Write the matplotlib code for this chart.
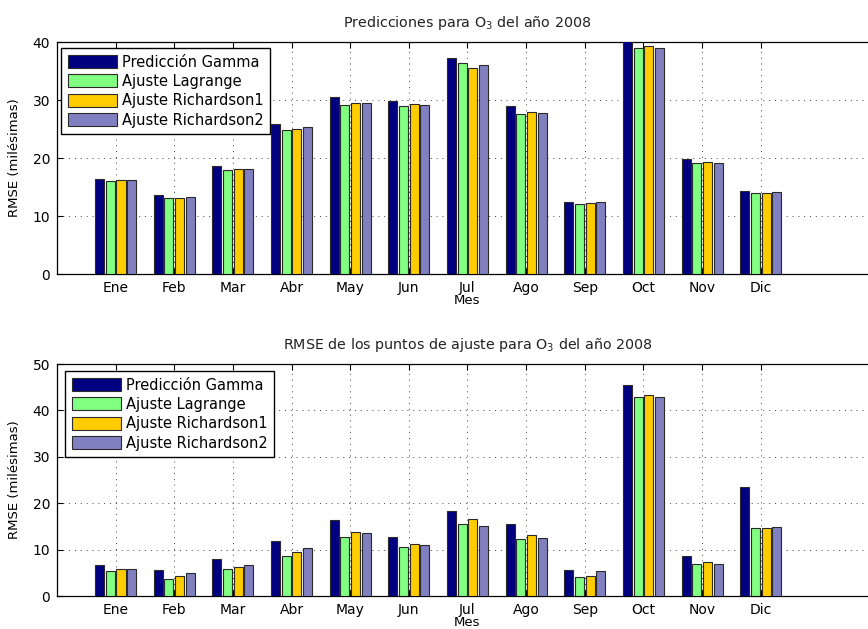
import numpy as np
import matplotlib
matplotlib.use("Agg")
import matplotlib.pyplot as plt

plt.rcParams["font.family"] = ["DejaVu Sans"]
plt.rcParams["mathtext.default"] = "regular"

MONTHS = ["Ene", "Feb", "Mar", "Abr", "May", "Jun", "Jul", "Ago", "Sep", "Oct", "Nov", "Dic"]
LABELS = ["Predicción Gamma", "Ajuste Lagrange", "Ajuste Richardson1", "Ajuste Richardson2"]
COLORS = ["#000080", "#80ff80", "#ffcc00", "#8080c0"]

# Predicciones (top)
pred_gamma = [16.4, 13.6, 18.6, 25.9, 30.5, 29.8, 37.2, 28.9, 12.5, 40.3, 19.8, 14.3]
pred_lagrange = [16.0, 13.1, 17.9, 24.8, 29.2, 29.0, 36.3, 27.6, 12.1, 39.0, 19.1, 13.9]
pred_rich1 = [16.2, 13.1, 18.1, 25.0, 29.5, 29.3, 35.6, 28.0, 12.2, 39.3, 19.3, 14.0]
pred_rich2 = [16.2, 13.35, 18.1, 25.4, 29.5, 29.1, 36.0, 27.7, 12.4, 38.9, 19.2, 14.1]

# Puntos de ajuste (bottom)
fit_gamma = [6.6, 5.7, 7.9, 11.9, 16.3, 12.8, 18.4, 15.6, 5.5, 45.5, 8.7, 23.4]
fit_lagrange = [5.3, 3.7, 5.9, 8.7, 12.7, 10.6, 15.6, 12.2, 4.0, 42.9, 6.8, 14.6]
fit_rich1 = [5.9, 4.25, 6.3, 9.4, 13.7, 11.3, 16.6, 13.2, 4.25, 43.3, 7.3, 14.7]
fit_rich2 = [5.9, 5.0, 6.6, 10.4, 13.5, 10.9, 15.1, 12.6, 5.3, 42.9, 7.0, 14.8]


def draw_panel(ax, series, ymax, title, leg_anchor):
    x = np.arange(1, len(MONTHS) + 1)
    for i, vals in enumerate(series):
        ax.bar(x + (i - 1.5) * 0.182, vals, width=0.155, color=COLORS[i],
               edgecolor="#2a2a2a", linewidth=0.8, label=LABELS[i], zorder=3)
    ax.set_xlim(0, 14)
    ax.set_ylim(0, ymax)
    ax.set_yticks(np.arange(0, ymax + 1, 10))
    ax.set_xticks(x)
    ax.set_xticklabels(MONTHS)
    ax.set_axisbelow(True)
    ax.grid(True, linestyle=(0, (1, 5)), color="#444444", linewidth=0.7)
    ax.tick_params(direction="in", top=True, right=True, labelsize=10, length=4, pad=5)
    for s in ax.spines.values():
        s.set_linewidth(0.9)
    ax.set_title(title, fontsize=10.3, color="#222222", pad=11)
    ax.set_xlabel("Mes", fontsize=9.5, labelpad=-1)
    ax.set_ylabel("RMSE (milésimas)", fontsize=9.5, labelpad=8)
    leg = ax.legend(loc="upper left", bbox_to_anchor=leg_anchor, fontsize=10.5,
                    fancybox=False, framealpha=1, edgecolor="black",
                    handlelength=3.4, handleheight=1.0, handletextpad=0.3,
                    labelspacing=0.3, borderpad=0.45, borderaxespad=0)
    leg.get_frame().set_linewidth(1.0)
    leg.set_zorder(5)


fig = plt.figure(figsize=(8.68, 6.29), dpi=100)
ax1 = fig.add_axes([57 / 868, (629 - 274) / 629, 821 / 868, 232 / 629])
ax2 = fig.add_axes([57 / 868, (629 - 596) / 629, 821 / 868, 232 / 629])

draw_panel(ax1, [pred_gamma, pred_lagrange, pred_rich1, pred_rich2], 40,
           "Predicciones para O$_3$ del año 2008", (4 / 821, 1 - 6 / 232))
draw_panel(ax2, [fit_gamma, fit_lagrange, fit_rich1, fit_rich2], 50,
           "RMSE de los puntos de ajuste para O$_3$ del año 2008", (8 / 821, 1 - 7 / 232))

fig.savefig("out.png", dpi=100)
